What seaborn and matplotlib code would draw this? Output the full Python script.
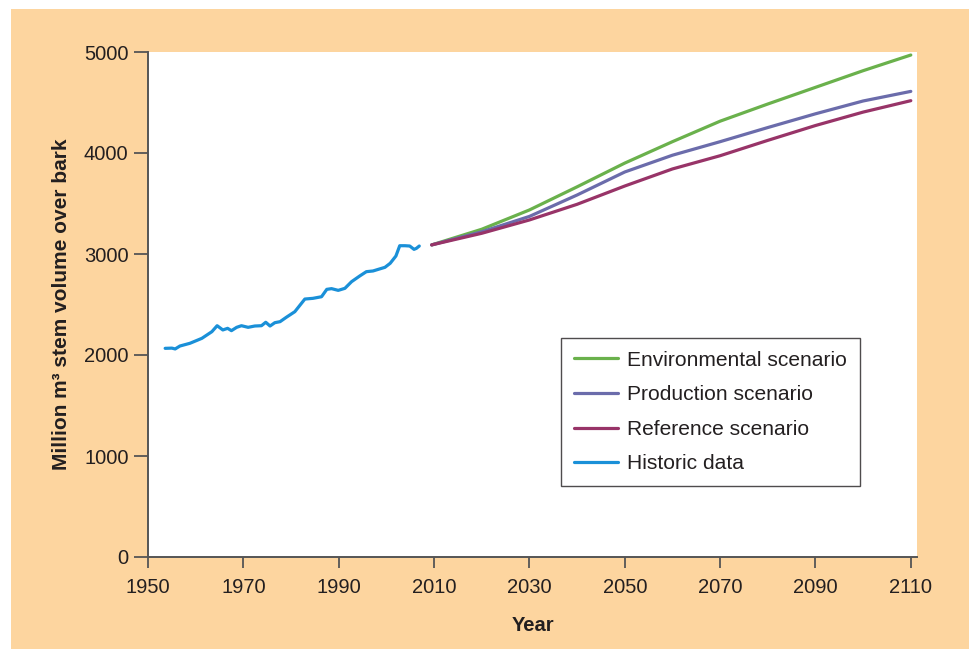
import numpy as np
import pandas as pd
import seaborn as sns
import matplotlib.pyplot as plt
from matplotlib.patches import Rectangle

# historic series
hist_years = [1953.6, 1955.0, 1955.7, 1956.7, 1958.8, 1961.3, 1963.4, 1964.5, 1965.7, 1966.7,
              1967.5, 1968.6, 1969.6, 1971.0, 1972.4, 1973.8, 1974.7, 1975.6, 1976.6, 1977.7,
              1979.0, 1980.8, 1982.9, 1984.6, 1986.4, 1987.5, 1988.5, 1989.9, 1991.3, 1992.7,
              1994.4, 1995.8, 1997.2, 1998.3, 1999.7, 2000.8, 2002.0, 2002.8, 2003.9, 2004.9,
              2005.8, 2006.3, 2006.9]
hist_vals = [2066, 2068, 2060, 2089, 2116, 2165, 2231, 2290, 2248, 2264,
             2241, 2274, 2290, 2274, 2287, 2290, 2324, 2287, 2320, 2330,
             2373, 2429, 2554, 2561, 2577, 2650, 2657, 2640, 2660, 2726,
             2782, 2825, 2832, 2848, 2868, 2908, 2980, 3082, 3082, 3079,
             3046, 3056, 3079]

# scenario projections
scen_years = [2009.5, 2020, 2030, 2040, 2050, 2060, 2070, 2080, 2090, 2100, 2110]
environmental = [3090, 3245, 3436, 3665, 3900, 4112, 4315, 4485, 4650, 4815, 4970]
production = [3090, 3220, 3372, 3584, 3812, 3978, 4112, 4252, 4388, 4515, 4610]
reference = [3090, 3205, 3337, 3492, 3673, 3842, 3973, 4125, 4272, 4405, 4518]

series_names = ["Environmental scenario", "Production scenario", "Reference scenario", "Historic data"]
colors = ["#6AB14C", "#6B6CAB", "#983468", "#1A90D8"]

rows = []
for name, vals in zip(series_names[:3], [environmental, production, reference]):
    for y, v in zip(scen_years, vals):
        rows.append((y, v, name))
for y, v in zip(hist_years, hist_vals):
    rows.append((y, v, "Historic data"))
df = pd.DataFrame(rows, columns=["year", "volume", "series"])

sns.set_style("white")
plt.rcParams["font.family"] = ["Liberation Sans", "DejaVu Sans"]
txt = "#231F20"

fig = plt.figure(figsize=(9.7, 6.49), dpi=100)
fig.patch.set_facecolor("white")
fig.patches.append(Rectangle((11 / 970, 0), 1, 640 / 649, transform=fig.transFigure,
                             facecolor="#FDD59F", edgecolor="none", zorder=-10))

ax = fig.add_axes([148 / 970, 92 / 649, 769 / 970, 505 / 649])
ax.set_facecolor("white")

sns.lineplot(data=df, x="year", y="volume", hue="series", hue_order=series_names,
             palette=colors, estimator=None, sort=True, linewidth=2.3, ax=ax)

ax.set_xlim(1950, 2111.3)
ax.set_ylim(0, 5000)
ax.set_xticks(range(1950, 2111, 20))
ax.set_yticks(range(0, 5001, 1000))
for s in ["top", "right"]:
    ax.spines[s].set_visible(False)
for s in ["left", "bottom"]:
    ax.spines[s].set_color("#555555")
    ax.spines[s].set_linewidth(1.4)
ax.tick_params(axis="y", direction="out", length=10, width=1.3, color="#555555",
               labelsize=14.5, labelcolor=txt, pad=4, left=True)
ax.tick_params(axis="x", direction="out", length=8, width=1.3, color="#555555",
               labelsize=14.5, labelcolor=txt, pad=7, bottom=True)

ax.set_xlabel("Year", fontsize=14.5, fontweight="bold", color=txt, labelpad=14)
ax.set_ylabel("Million m³ stem volume over bark", fontsize=15, fontweight="bold",
              color=txt, labelpad=9)

leg = ax.legend(loc="upper left", bbox_to_anchor=(0.537, 0.434), borderaxespad=0,
                fontsize=15.1, frameon=True, fancybox=False, handlelength=2.1,
                labelspacing=0.74, borderpad=0.62, handletextpad=0.45)
leg.get_frame().set_edgecolor("#231F20")
leg.get_frame().set_linewidth(1.0)
for t in leg.get_texts():
    t.set_color(txt)

fig.savefig("out.png", dpi=100)
